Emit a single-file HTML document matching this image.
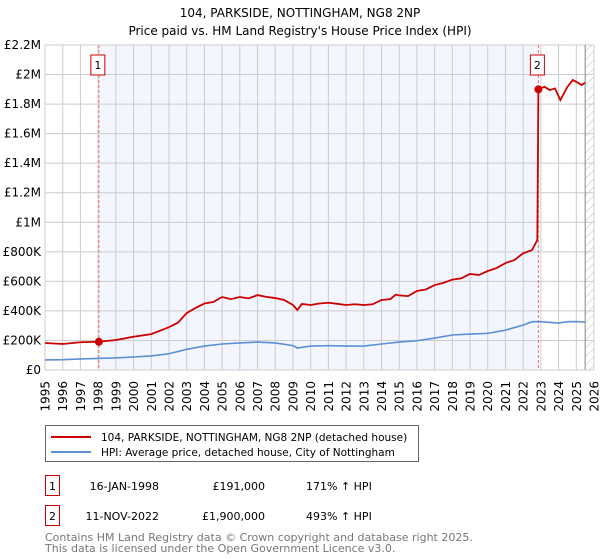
<!DOCTYPE html>
<html><head><meta charset="utf-8"><style>
html,body{margin:0;padding:0;background:#fff;width:600px;height:560px;overflow:hidden;font-family:"DejaVu Sans","Liberation Sans",sans-serif;}
svg text{font-family:"DejaVu Sans","Liberation Sans",sans-serif;}
</style></head><body>
<svg id="chart" width="600" height="560" xmlns="http://www.w3.org/2000/svg">
<defs>
<pattern id="hatch" width="6" height="6" patternUnits="userSpaceOnUse" patternTransform="rotate(45)">
<line x1="0" y1="0" x2="0" y2="6" stroke="#bbb" stroke-width="1"/>
</pattern>
</defs>
<text x="300" y="17" text-anchor="middle" font-size="12" fill="#000">104, PARKSIDE, NOTTINGHAM, NG8 2NP</text>
<text x="300" y="35" text-anchor="middle" font-size="12" fill="#000">Price paid vs. HM Land Registry's House Price Index (HPI)</text>
<g id="plot"></g>
<g>
<rect x="45.5" y="425.5" width="373" height="36" fill="#fff" stroke="#666"/>
<line x1="51" y1="437" x2="91" y2="437" stroke="#cc0000" stroke-width="2"/>
<text x="101" y="441" font-size="10.5">104, PARKSIDE, NOTTINGHAM, NG8 2NP (detached house)</text>
<line x1="51" y1="452" x2="91" y2="452" stroke="#5b8fd4" stroke-width="2"/>
<text x="101" y="456" font-size="10.5">HPI: Average price, detached house, City of Nottingham</text>
</g>
<g>
<rect x="45.5" y="475.5" width="14" height="20" fill="#fff" stroke="#cc0000"/>
<text x="52.5" y="490" text-anchor="middle" font-size="11">1</text>
<text x="159" y="490" text-anchor="end" font-size="11">16-JAN-1998</text>
<text x="265" y="490" text-anchor="end" font-size="11">£191,000</text>
<text x="306" y="490" font-size="11">171% ↑ HPI</text>
<rect x="45.5" y="505.5" width="14" height="20" fill="#fff" stroke="#cc0000"/>
<text x="52.5" y="520" text-anchor="middle" font-size="11">2</text>
<text x="159" y="520" text-anchor="end" font-size="11">11-NOV-2022</text>
<text x="265" y="520" text-anchor="end" font-size="11">£1,900,000</text>
<text x="306" y="520" font-size="11">493% ↑ HPI</text>
</g>
<text x="45" y="541" font-size="11" fill="#777">Contains HM Land Registry data © Crown copyright and database right 2025.</text>
<text x="45" y="552" font-size="11" fill="#777">This data is licensed under the Open Government Licence v3.0.</text>
</svg>
<script>
const yTickValues = [0,200,400,600,800,1000,1200,1400,1600,1800,2000,2200];
const yTickLabels = ["£0","£200K","£400K","£600K","£800K","£1M","£1.2M","£1.4M","£1.6M","£1.8M","£2M","£2.2M"];
const xYears = [1995,1996,1997,1998,1999,2000,2001,2002,2003,2004,2005,2006,2007,2008,2009,2010,2011,2012,2013,2014,2015,2016,2017,2018,2019,2020,2021,2022,2023,2024,2025,2026];
const propDates = [1995,1996,1997,1998.04,1999,2000,2001,2002,2002.5,2003,2003.5,2004,2004.5,2005,2005.5,2006,2006.5,2007,2007.5,2008,2008.5,2009,2009.25,2009.5,2010,2010.5,2011,2011.5,2012,2012.5,2013,2013.5,2014,2014.5,2014.8,2015,2015.5,2016,2016.5,2017,2017.5,2018,2018.5,2019,2019.5,2020,2020.5,2021,2021.5,2022,2022.5,2022.8,2022.86,2023.2,2023.5,2023.8,2024.1,2024.5,2024.8,2025,2025.3,2025.5];
const propValues = [183,176,188,191,203,225,243,290,320,385,420,450,460,494,480,494,485,507,495,487,474,440,406,447,440,450,455,448,440,445,440,445,474,480,510,505,500,535,545,575,590,612,620,650,643,670,690,724,744,790,812,880,1900,1917,1895,1906,1827,1917,1963,1951,1929,1945];
const hpiDates = [1995,1996,1997,1998,1999,2000,2001,2002,2003,2004,2005,2006,2007,2008,2009,2009.25,2010,2011,2012,2013,2014,2015,2016,2017,2018,2019,2020,2021,2022,2022.5,2023,2024,2024.5,2025,2025.5];
const hpiValues = [68,70,75,78,82,88,95,110,140,162,176,183,189,183,165,149,162,165,162,162,176,189,198,216,237,243,248,270,304,327,327,318,327,328,324];
const saleDates = [1998.04,2022.86];
const saleValues = [191,1900];
const saleLabels = ["1","2"];

const L=45,R=594,T=45,B=370,Y0=1995,Y1=2026,VMAX=2200;
const xs=d=>L+(d-Y0)/(Y1-Y0)*(R-L);
const ys=v=>B-v/VMAX*(B-T);
const NS="http://www.w3.org/2000/svg";
const g=document.getElementById('plot');
function mk(tag,attrs,parent){const e=document.createElementNS(NS,tag);for(const k in attrs)e.setAttribute(k,attrs[k]);(parent||g).appendChild(e);return e;}

let r=mk('rect',{x:xs(saleDates[0]),y:T,width:xs(saleDates[1])-xs(saleDates[0]),height:B-T,fill:'#f3f6fe'});


let h=mk('rect',{x:xs(2025.5),y:T,width:R-xs(2025.5),height:B-T,fill:'url(#hatch)'});



yTickValues.forEach((v,i)=>{
  const l=mk('line',{x1:L,x2:R,y1:ys(v),y2:ys(v),stroke:'#ccc','stroke-width':1});
  
  
  const t=mk('text',{x:L-4,y:ys(v)+4,'text-anchor':'end','font-size':12,fill:'#000'});
  t.textContent=yTickLabels[i];
  
  
});
xYears.forEach(y=>{
  const l=mk('line',{x1:xs(y),x2:xs(y),y1:T,y2:B,stroke:'#ccc','stroke-width':1});
  
  
  const t=mk('text',{x:0,y:0,'text-anchor':'end','font-size':12,fill:'#000',transform:`translate(${xs(y)+4.5},381) rotate(-90)`});
  t.textContent=y;
  
  
});
const vl=mk('line',{x1:xs(2025.5),x2:xs(2025.5),y1:T,y2:B,stroke:'#888','stroke-width':1});



saleDates.forEach((d,i)=>{
  const l=mk('line',{x1:xs(d),x2:xs(d),y1:T,y2:B,stroke:'#f07070','stroke-width':1,'stroke-dasharray':'3,2'});
  
  
  const b=mk('rect',{x:xs(d)-8,y:55,width:14,height:20,fill:'#fff',stroke:'#cc0000'});
  
  
  const t=mk('text',{x:xs(d)-1,y:69,'text-anchor':'middle','font-size':11});
  t.textContent=saleLabels[i];
  
  
});

const hp=mk('polyline',{points:hpiDates.map((d,i)=>xs(d)+','+ys(hpiValues[i])).join(' '),fill:'none',stroke:'#5b8fd4','stroke-width':1.6});


const pp=mk('polyline',{points:propDates.map((d,i)=>xs(d)+','+ys(propValues[i])).join(' '),fill:'none',stroke:'#cc0000','stroke-width':1.8});


saleDates.forEach((d,i)=>{
  const c=mk('circle',{cx:xs(d),cy:ys(saleValues[i]),r:4,fill:'#cc0000'});
  
  
});
const ax=mk('line',{x1:L,x2:R,y1:B,y2:B,stroke:'#ccc'});


</script>
</body></html>
